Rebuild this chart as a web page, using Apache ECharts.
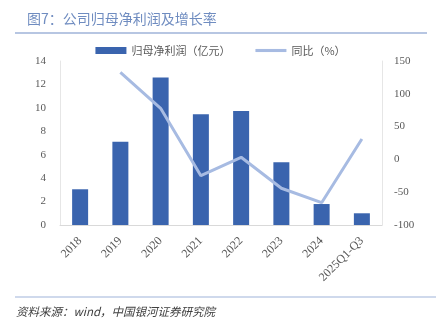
<!DOCTYPE html>
<html><head><meta charset="utf-8">
<script src="https://cdn.jsdelivr.net/npm/echarts@6/dist/echarts.min.js"></script>
<style>html,body{margin:0;padding:0;background:#fff}#c{width:441px;height:325px}</style>
</head><body><div id="c"></div>
<script>
const categories = ['2018','2019','2020','2021','2022','2023','2024','2025Q1-Q3'];
const profit = [3.05, 7.1, 12.6, 9.45, 9.73, 5.35, 1.79, 1.0];
const yoy = [null, 132.8, 77.9, -24.8, 3.2, -44, -66, 31];
const leftTicks = [0,2,4,6,8,10,12,14];
const rightTicks = [-100,-50,0,50,100,150];

const chart = echarts.init(document.getElementById('c'));
const cjk = '"Noto Sans CJK SC", sans-serif';
const serif = '"Liberation Serif", "DejaVu Serif", serif';
chart.setOption({
  animation: false,
  graphic: [
    {type:'text', x: 27, y: 12, style:{text:'图7：公司归母净利润及增长率', fontFamily: cjk, fontSize: 14, fill:'#6f8cc0', textAlign:'left', textVerticalAlign:'top'}},
    {type:'line', shape:{x1:15,y1:33,x2:427,y2:33}, style:{stroke:'#9fb3d9', lineWidth:1.5}},
    {type:'line', shape:{x1:15,y1:297,x2:436,y2:297}, style:{stroke:'#9fb3d9', lineWidth:1.2}},
    {type:'text', x: 16, y: 306, style:{text:'资料来源：wind，中国银河证券研究院', fontFamily: cjk, fontStyle:'italic', fontSize: 11.5, fill:'#404040', textAlign:'left', textVerticalAlign:'top'}}
  ],
  legend: {
    top: 40, left: 'center', itemGap: 25, itemWidth: 31, itemHeight: 7,
    textStyle: {fontFamily: cjk, fontSize: 11, color: '#595959'},
    data: [
      {name:'归母净利润（亿元）', icon:'rect'},
      {name:'同比（%）', icon:'path://M0,0 L30,0 L30,3 L0,3 Z', itemStyle:{color:'#a7bbe2'}}
    ]
  },
  grid: {left: 60, right: 59, top: 61, bottom: 100},
  xAxis: {
    type: 'category', data: categories,
    axisLine: {lineStyle: {color: '#d9d9d9'}},
    axisTick: {show: false},
    axisLabel: {rotate: 45, color: '#595959', fontFamily: serif, fontSize: 12, interval: 0, margin: 14}
  },
  yAxis: [
    {type:'value', min: 0, max: 14, interval: 2,
     axisLine:{show:true, lineStyle:{color:'#e6e6e6'}}, axisTick:{show:false}, splitLine:{show:false},
     axisLabel:{color:'#595959', fontFamily: serif, fontSize: 11, margin: 14}},
    {type:'value', min: -100, max: 150, interval: 50,
     axisLine:{show:true, lineStyle:{color:'#e6e6e6'}}, axisTick:{show:false}, splitLine:{show:false},
     axisLabel:{color:'#595959', fontFamily: serif, fontSize: 11, margin: 12}}
  ],
  series: [
    {name:'归母净利润（亿元）', type:'bar', data: profit, barWidth: 16, itemStyle:{color:'#3a64ae'}},
    {name:'同比（%）', type:'line', yAxisIndex: 1, data: yoy, symbol:'none',
     lineStyle:{color:'#a7bbe2', width: 3}, itemStyle:{color:'#a7bbe2'}}
  ]
});
</script></body></html>
